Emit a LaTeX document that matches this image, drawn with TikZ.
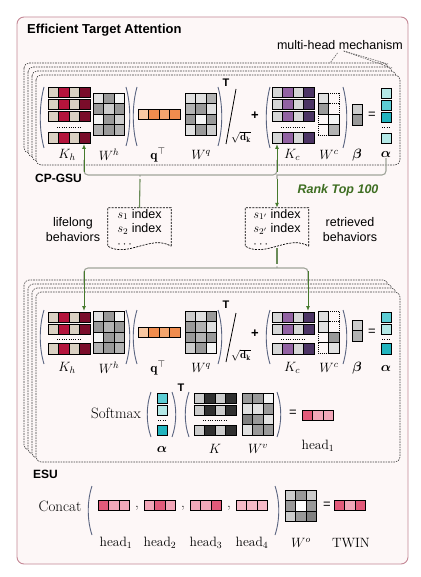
\RequirePackage{fix-cm}
\documentclass[tikz,border=0pt]{standalone}
\usepackage{amsmath}
\usepackage{amssymb}
\usepackage{fontspec}
\setsansfont{Liberation Sans}
\usetikzlibrary{calc,arrows.meta}

\definecolor{framecol}{HTML}{C48896}
\definecolor{framefill}{HTML}{FDF7F7}
\definecolor{khA}{HTML}{DAD0C2}
\definecolor{khB}{HTML}{B4143C}
\definecolor{khC}{HTML}{7A0C2A}
\definecolor{kcA}{HTML}{D6D6D6}
\definecolor{kcB}{HTML}{9262A2}
\definecolor{kcC}{HTML}{4C3464}
\definecolor{qA}{HTML}{F9C8A2}
\definecolor{qB}{HTML}{F08C4E}
\definecolor{qC}{HTML}{F4A56E}
\definecolor{tlA}{HTML}{B4E8E6}
\definecolor{tlB}{HTML}{5CCDD4}
\definecolor{tlC}{HTML}{22B4BE}
\definecolor{g0}{HTML}{F4F4F4}
\definecolor{g1}{HTML}{E0E0E0}
\definecolor{g2}{HTML}{CCCCCC}
\definecolor{g3}{HTML}{B2B2B2}
\definecolor{g4}{HTML}{999999}
\definecolor{g5}{HTML}{808080}
\definecolor{kdk}{HTML}{303030}
\definecolor{pkA}{HTML}{E35A7A}
\definecolor{pkB}{HTML}{F2A6B8}
\definecolor{pkC}{HTML}{F6BAC8}
\definecolor{bracecol}{HTML}{A0A59A}
\definecolor{flowcol}{HTML}{467A2C}
\definecolor{parcol}{HTML}{5A6480}
\definecolor{rankcol}{HTML}{3E6E22}

\newcommand{\cellrow}[3]{%
  \foreach \cl [count=\i from 0] in {#3}
    {\draw[cell, fill=\cl] ({#1+\i*10.5},{#2}) rectangle ++(10.5,10.5);}}
\newcommand{\emptycell}[2]{\draw[dcell] (#1,#2) rectangle ++(10.5,10.5);}
\newcommand{\openpar}[3]{\draw[paren] ({#1+4},{#2}) .. controls ({#1-1},{#2+(#3-#2)*0.3}) and ({#1-1},{#2+(#3-#2)*0.7}) .. ({#1+4},{#3});}
\newcommand{\closepar}[3]{\draw[paren] ({#1-4},{#2}) .. controls ({#1+1},{#2+(#3-#2)*0.3}) and ({#1+1},{#2+(#3-#2)*0.7}) .. ({#1-4},{#3});}
\newcommand{\rowdots}[3]{\draw[dots] (#1,#3) -- (#2,#3);}
\newcommand{\docshape}[1]{\draw[idxline] ($(#1.south east)+(0,-2)$) -- (#1.north east) -- (#1.north west) -- ($(#1.south west)+(0,-2)$) .. controls ($(#1.south west)+(20,10)$) and ($(#1.south east)+(-20,-14)$) .. ($(#1.south east)+(0,-2)$);}

\begin{document}
\begin{tikzpicture}[x=1pt,y=-1pt,
    cell/.style={draw=black, line width=0.8pt},
    dcell/.style={draw=black, line width=0.6pt, dash pattern=on 1pt off 1pt},
    paren/.style={draw=parcol, line width=0.9pt},
    dots/.style={line width=0.8pt, dash pattern=on 1pt off 1.3pt},
    stack/.style={draw=black!75, line width=0.6pt, dash pattern=on 1.6pt off 1pt, rounded corners=5pt, fill=framefill},
    brace/.style={draw=bracecol, line width=1.1pt, rounded corners=4pt},
    flow/.style={draw=flowcol, line width=1pt, -{Latex[length=5pt,width=4pt]}},
    stem/.style={draw=flowcol!60!bracecol, line width=1.1pt},
    lbl/.style={font=\fontsize{13.5}{16}\selectfont, inner sep=0pt},
    big/.style={font=\fontsize{15}{18}\selectfont, inner sep=0pt},
    sans/.style={font=\sffamily\fontsize{12.5}{15}\selectfont, inner sep=0pt, align=center},
    head/.style={font=\sffamily\bfseries\fontsize{12}{14}\selectfont, inner sep=0pt},
    tsup/.style={font=\sffamily\bfseries\fontsize{11}{13}\selectfont, inner sep=0pt},
    sym/.style={font=\sffamily\fontsize{13}{15}\selectfont, inner sep=0pt},
    idxbox/.style={font=\sffamily\fontsize{12.5}{14.5}\selectfont, align=left, minimum width=63pt, minimum height=40pt, inner sep=0pt},
    idxline/.style={draw=black, line width=0.7pt, dash pattern=on 2pt off 1.2pt}
  ]
  \fill[white] (0,0) rectangle (420,577);
  \useasboundingbox (0,0) rectangle (420,577);
  \draw[draw=framecol, fill=framefill, line width=0.9pt, rounded corners=7pt] (17,17) rectangle (408,564);

  \node[head, font=\sffamily\bfseries\fontsize{13}{15}\selectfont, anchor=west] (title) at (27,30) {Efficient Target Attention};
  \node[sans, anchor=east] (mh) at (403,45) {multi-head mechanism};

  % CP-GSU heads
  \foreach \k in {3,2,1,0}
    {\draw[stack] ({36-4*\k},{75-4*\k}) rectangle ({400-4*\k},{165-4*\k});}
  \coordinate (mhA) at (330,63);
  \coordinate (mhB) at (388,64);
  \coordinate (mhC) at (392,68);
  \draw[black!70, line width=0.5pt, dash pattern=on 1.5pt off 1pt, shorten <=4pt] (mh.south) -- (mhA);
  \draw[black!70, line width=0.5pt, dash pattern=on 1.5pt off 1pt, shorten <=4pt] (mh.south) -- (mhB);
  \draw[black!70, line width=0.5pt, dash pattern=on 1.5pt off 1pt, shorten <=4pt] (mh.south) -- (mhC);

  \openpar{40}{87}{148}
  \foreach \y in {87,99,111,132.5} {\cellrow{48}{\y}{khA,khB,khA,khC}}
  \rowdots{57}{81}{127.5}
  \cellrow{93}{93}{g1,g4,g0}
  \cellrow{93}{103.5}{g4,g2,g4}
  \cellrow{93}{114}{g0,g4,g2}
  \cellrow{93}{124.5}{g3,g4,g3}
  \closepar{130}{87}{146}
  \openpar{133}{87}{146}
  \cellrow{138}{109}{qA,qB,qC,qB}
  \cellrow{185}{93}{g1,g1,g3}
  \cellrow{185}{103.5}{g3,g4,g1}
  \cellrow{185}{114}{g4,g0,g4}
  \cellrow{185}{124.5}{g1,g4,g2}
  \closepar{222}{87}{146}
  \node[tsup] at (226,83) {T};
  \draw[black, line width=0.8pt] (236,89) -- (226,144);
  \node[lbl, font=\fontsize{11}{13}\selectfont] at (241,137) {$\sqrt{\mathbf{d}_{\mathbf{k}}}$};
  \node[sym, font=\sffamily\bfseries\fontsize{13}{15}\selectfont] at (255,116) {+};
  \openpar{266}{87}{148}
  \foreach \y in {87,99,111,132.5} {\cellrow{272}{\y}{kcA,kcB,kcA,kcC}}
  \rowdots{281}{305}{127.5}
  \cellrow{318}{93}{g1}
  \cellrow{318}{103.5}{g4}
  \emptycell{318}{114}
  \emptycell{318}{124.5}
  \emptycell{328.5}{93}
  \emptycell{328.5}{103.5}
  \cellrow{328.5}{114}{g0}
  \cellrow{328.5}{124.5}{g3}
  \closepar{347}{87}{148}
  \cellrow{352}{104}{g2}
  \cellrow{352}{114.5}{g4}
  \node[sym] at (372,115) {=};
  \cellrow{381}{88}{tlA}
  \cellrow{381}{100}{tlB}
  \cellrow{381}{112}{tlC}
  \rowdots{382}{391}{127.5}
  \cellrow{381}{133}{tlA}

  \node[lbl] (lKhU) at (67,155) {$K_h$};
  \node[lbl] (lWhU) at (109,155) {$W^h$};
  \node[lbl] (lqU) at (158,155) {$\mathbf{q}^{\top}$};
  \node[lbl] (lWqU) at (201,155) {$W^q$};
  \node[lbl] (lKcU) at (292,155) {$K_c$};
  \node[lbl] (lWcU) at (329,155) {$W^c$};
  \node[lbl] (lbU) at (357,155) {$\boldsymbol{\beta}$};
  \node[lbl] (laU) at (386,155) {$\boldsymbol{\alpha}$};

  \node[head, anchor=west] (gsu) at (35,178) {CP-GSU};

  % retrieval
  \node[idxbox] (s1) at (139.5,228) {$s_1$ index\\$s_2$ index\\$\cdots$};
  \node[idxbox] (s1p) at (277,228) {$s_{1'}$ index\\$s_{2'}$ index\\$\cdots$};
  \docshape{s1}
  \docshape{s1p}
  \node[sans] (life) at (73,230) {lifelong\\behaviors};
  \node[sans] (retr) at (350,230) {retrieved\\behaviors};
  \node[font=\sffamily\bfseries\itshape\fontsize{12.5}{15}\selectfont, text=rankcol, inner sep=0pt] (rank) at (338,190) {Rank Top 100};

  \coordinate (KhUb) at (84,144);
  \coordinate (KcUb) at (277,144);
  \coordinate (cuspU) at (140,179);
  \coordinate (cuspR) at (277,179);
  \draw[brace] (84,160) -- (84,175) -- (136,175) .. controls (140,175) .. (cuspU) .. controls (140,175) .. (144,175) -- (277,175) -- (277,160);
  \draw[brace] (laU.south) -- (386,175) -- (281,175) .. controls (277,175) .. (cuspR);
  \draw[flow] (84,172) -- (KhUb);
  \draw[flow] (277,172) -- (KcUb);
  \draw[stem] (cuspU) -- (s1.north);
  \draw[flow] (cuspR) -- (s1p.north);

  % ESU heads
  \foreach \k in {3,2,1,0}
    {\draw[stack] ({36-4*\k},{292-4*\k}) rectangle ({400-4*\k},{462-4*\k});}

  \openpar{40}{310}{364}
  \foreach \y in {312,324,343.5} {\cellrow{48}{\y}{khA,khB,khA,khC}}
  \rowdots{57}{81}{339.5}
  \cellrow{93}{311}{g1,g4,g0}
  \cellrow{93}{321.5}{g4,g3,g4}
  \cellrow{93}{332}{g0,g4,g3}
  \cellrow{93}{342.5}{g3,g4,g3}
  \closepar{130}{310}{364}
  \openpar{133}{310}{364}
  \cellrow{138}{327}{qA,qB,qC,qB}
  \cellrow{185}{311}{g2,g1,g4}
  \cellrow{185}{321.5}{g4,g3,g1}
  \cellrow{185}{332}{g4,g3,g4}
  \cellrow{185}{342.5}{g2,g4,g0}
  \closepar{222}{310}{364}
  \node[tsup] at (226,305) {T};
  \draw[black, line width=0.8pt] (236,313) -- (226,362);
  \node[lbl, font=\fontsize{11}{13}\selectfont] at (241,355) {$\sqrt{\mathbf{d}_{\mathbf{k}}}$};
  \node[sym, font=\sffamily\bfseries\fontsize{13}{15}\selectfont] at (255,334) {+};
  \openpar{266}{310}{364}
  \foreach \y in {312,324,343.5} {\cellrow{272}{\y}{kcA,kcB,kcA,kcC}}
  \rowdots{281}{305}{339.5}
  \cellrow{318}{311}{g1}
  \cellrow{318}{321.5}{g1}
  \emptycell{318}{332}
  \emptycell{318}{342.5}
  \emptycell{328.5}{311}
  \emptycell{328.5}{321.5}
  \cellrow{328.5}{332}{g4}
  \cellrow{328.5}{342.5}{g1}
  \closepar{347}{310}{364}
  \cellrow{352}{320}{g2}
  \cellrow{352}{330.5}{g3}
  \node[sym] at (372,332) {=};
  \cellrow{381}{312}{tlB}
  \cellrow{381}{324}{tlA}
  \rowdots{382}{391}{339.5}
  \cellrow{381}{343.5}{tlC}

  \node[lbl] (lKhL) at (67,368) {$K_h$};
  \node[lbl] (lWhL) at (109,368) {$W^h$};
  \node[lbl] (lqL) at (158,368) {$\mathbf{q}^{\top}$};
  \node[lbl] (lWqL) at (201,368) {$W^q$};
  \node[lbl] (lKcL) at (292,368) {$K_c$};
  \node[lbl] (lWcL) at (329,368) {$W^c$};
  \node[lbl] (lbL) at (357,368) {$\boldsymbol{\beta}$};
  \node[lbl] (laL) at (386,368) {$\boldsymbol{\alpha}$};

  \coordinate (KhLt) at (84,311);
  \coordinate (KcLt) at (308,311);
  \coordinate (cuspL) at (277,264);
  \draw[stem] (s1p.south) -- (cuspL);
  \draw[brace] (84,285) -- (84,268) -- (273,268) .. controls (277,268) .. (cuspL) .. controls (277,268) .. (281,268) -- (308,268) -- (308,285);
  \draw[flow] (84,271) -- (KhLt);
  \draw[flow] (308,271) -- (KcLt);

  % softmax
  \node[big] (sm) at (116,413) {Softmax};
  \openpar{147}{392}{437}
  \cellrow{157}{393}{tlB}
  \cellrow{157}{405}{tlA}
  \rowdots{158}{167}{420.5}
  \cellrow{157}{425}{tlC}
  \closepar{176}{392}{437}
  \node[tsup] at (181,388) {T};
  \openpar{185}{392}{437}
  \foreach \y in {393,405,425} {\cellrow{194}{\y}{g2,kdk,g2,kdk}}
  \rowdots{203}{227}{420.5}
  \cellrow{242}{393}{g4,g4,g0}
  \cellrow{242}{403.5}{g1,g1,g4}
  \cellrow{242}{414}{g5,g4,g1}
  \cellrow{242}{424.5}{g1,g4,g4}
  \closepar{281}{392}{437}
  \node[sym] at (293,413) {=};
  \cellrow{302}{410}{pkA,pkB,pkB}
  \node[lbl] (laS) at (162,449) {$\boldsymbol{\alpha}$};
  \node[lbl] (lK) at (215,449) {$K$};
  \node[lbl] (lWv) at (258,449) {$W^v$};
  \node[lbl] (lh1) at (318,446) {head$_1$};

  \node[head, anchor=west] (esu) at (33,474) {ESU};

  % concat
  \node[big] (cc) at (60,506) {Concat};
  \openpar{88}{486}{535}
  \cellrow{98}{500}{pkA,pkB,pkB}
  \node[big] at (137,508) {,};
  \cellrow{144}{500}{pkB,pkA,pkB}
  \node[big] at (183,508) {,};
  \cellrow{190}{500}{pkB,pkB,pkA}
  \node[big] at (229,508) {,};
  \cellrow{236}{500}{pkC,pkC,pkC}
  \closepar{279}{486}{535}
  \cellrow{285}{490}{g2,g4,g2}
  \cellrow{285}{500.5}{g4,white,g4}
  \cellrow{285}{511}{g2,g4,g5}
  \node[sym] at (327,505) {=};
  \cellrow{334}{500}{pkA,pkB,pkA}
  \node[lbl] (lc1) at (116,543) {head$_1$};
  \node[lbl] (lc2) at (160,543) {head$_2$};
  \node[lbl] (lc3) at (206,543) {head$_3$};
  \node[lbl] (lc4) at (252,543) {head$_4$};
  \node[lbl] (lWo) at (301,543) {$W^o$};
  \node[lbl] (ltw) at (351,543) {TWIN};
\end{tikzpicture}
\end{document}
